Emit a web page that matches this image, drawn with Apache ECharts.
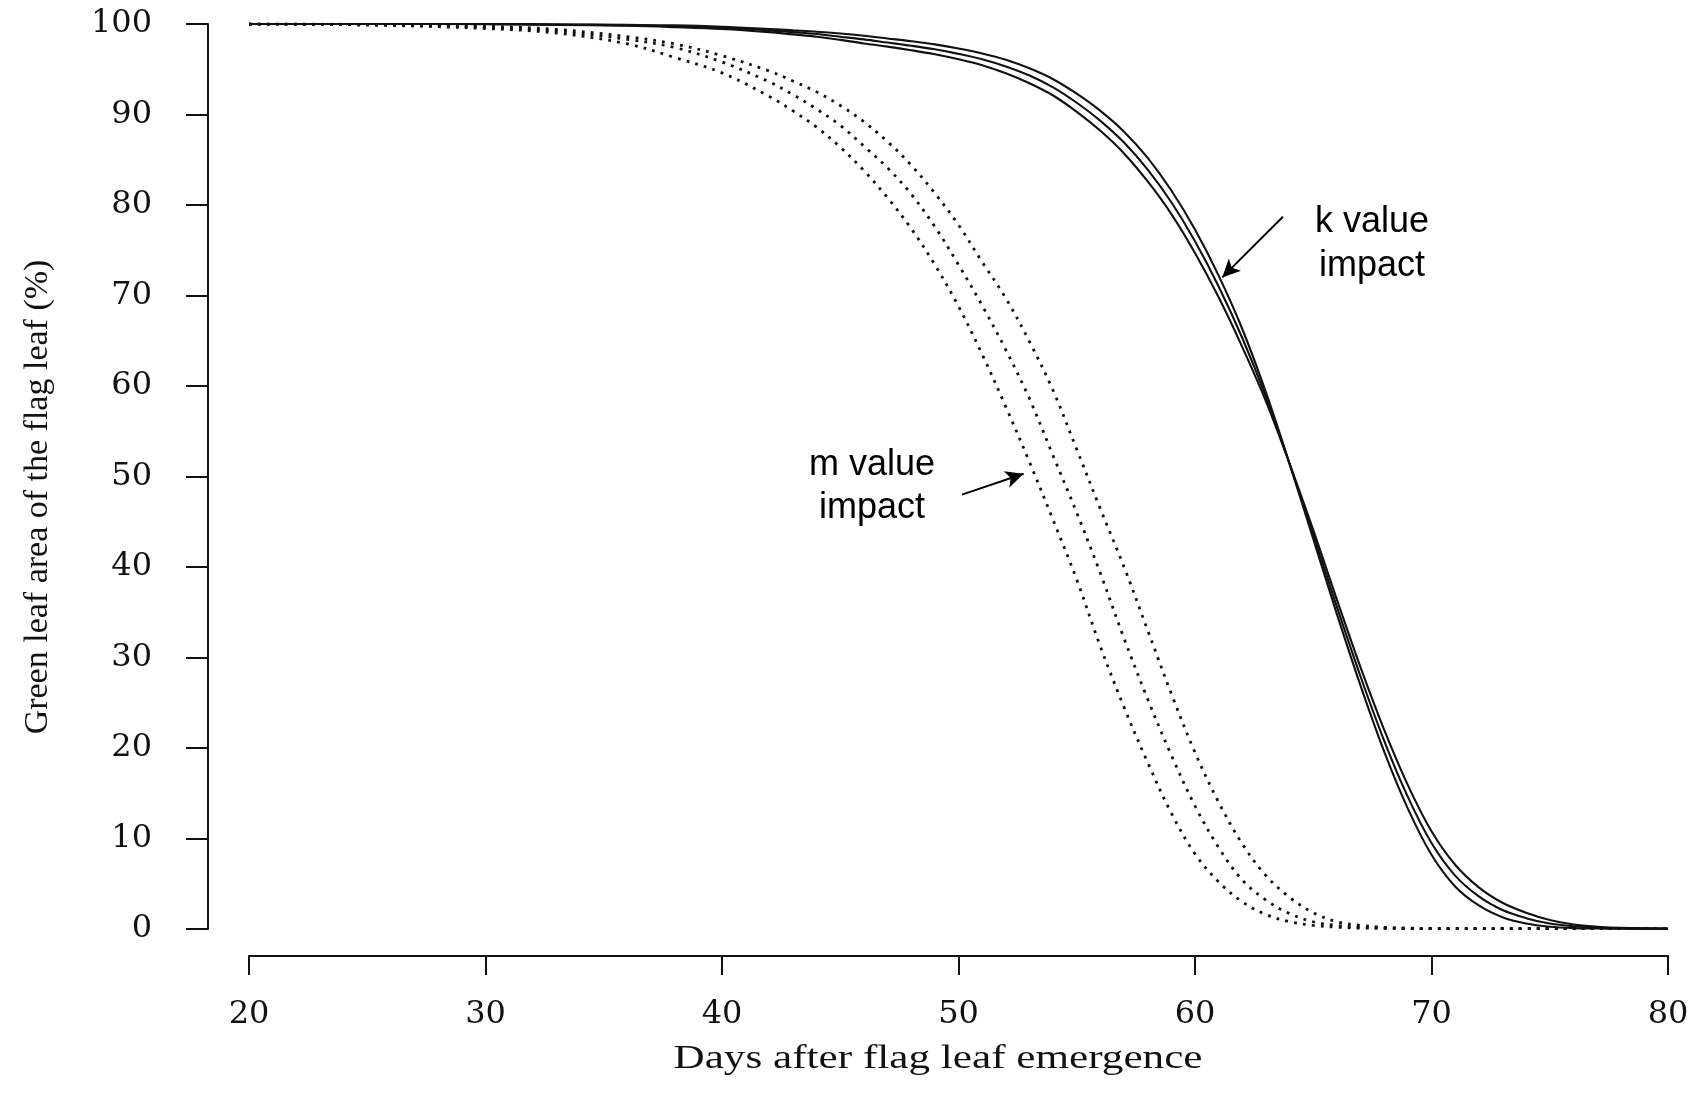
<!DOCTYPE html>
<html><head><meta charset="utf-8">
<script src="https://cdn.jsdelivr.net/npm/echarts@6/dist/echarts.min.js"></script>
<style>html,body{margin:0;padding:0;background:#fff}#c{width:1695px;height:1098px}</style>
</head><body><div id="c"></div>
<script>
// Days after flag leaf emergence (x positions of the read-off points)
const days = [20,25,30,33,36,38,40,42,43,44,45,46,47,48,49,50,51,52,53,54,55,56,57,58,59,60,61,62,63,64,65,66,67,68,69,70,71,72,73,74,75,76,77,78,80];

// Solid curves: k value impact
const kHigh = [100,100,100,99.95,99.9,99.85,99.7,99.45,99.3,99.15,98.95,98.7,98.4,98.1,97.75,97.3,96.75,96.05,95.1,93.9,92.3,90.4,88.1,85.2,81.6,77.3,72.2,66.3,59.3,51.4,43.1,34.8,26.9,19.6,13.3,8.2,4.7,2.6,1.3,0.6,0.25,0.1,0.05,0.02,0];
const kMid  = [100,100,100,99.95,99.85,99.75,99.6,99.3,99.1,98.9,98.6,98.3,97.95,97.6,97.2,96.7,96.1,95.3,94.3,93.0,91.3,89.3,86.9,83.9,80.3,76.0,71.0,65.3,58.8,51.4,43.6,35.6,27.9,20.8,14.6,9.5,5.9,3.6,2.1,1.2,0.6,0.3,0.15,0.08,0.05];
const kLow  = [100,100,99.98,99.9,99.8,99.65,99.45,99.1,98.85,98.6,98.25,97.85,97.5,97.1,96.65,96.1,95.45,94.55,93.45,92.1,90.3,88.2,85.7,82.6,79.0,74.7,69.8,64.3,58.3,51.4,44.1,36.4,28.9,22.0,15.9,10.8,7.1,4.6,2.9,1.8,1.0,0.5,0.25,0.12,0.05];

// Dotted curves: m value impact
const mEarly = [100,99.9,99.5,99.0,97.8,96.3,94.6,92.0,90.4,88.6,86.4,83.8,80.8,77.4,73.4,68.8,63.5,57.7,51.6,45.2,38.6,31.2,24.5,18.4,12.8,8.3,5.2,3.0,1.6,0.8,0.4,0.2,0.1,0.08,0.05,0.05,0.05,0.05,0.05,0.05,0.05,0.05,0.05,0.05,0.05];
const mMid   = [100,99.9,99.65,99.2,98.3,97.4,95.8,93.6,92.2,90.6,88.8,86.5,84.1,81.2,77.6,73.4,68.9,64.0,58.6,52.3,46.0,39.3,32.1,25.4,19.2,13.6,9.0,5.4,3.2,1.7,0.8,0.4,0.2,0.1,0.06,0.05,0.05,0.05,0.05,0.05,0.05,0.05,0.05,0.05,0.05];
const mLate  = [100,99.95,99.75,99.4,98.6,97.8,96.5,94.8,93.7,92.5,91.0,89.2,87.0,84.4,81.3,77.8,73.7,69.7,64.9,59.5,53.0,46.4,40.0,33.0,26.0,19.5,14.0,9.4,5.9,3.5,1.8,0.8,0.4,0.2,0.1,0.05,0.05,0.05,0.05,0.05,0.05,0.05,0.05,0.05,0.05];

const xTicks = [20,30,40,50,60,70,80];
const yTicks = [0,10,20,30,40,50,60,70,80,90,100];

const xTitle = 'Days after flag leaf emergence';
const yTitle = 'Green leaf area of the flag leaf (%)';

const pairs = v => days.map((d, i) => [d, v[i]]);
const tickFont = 'DejaVu Serif';
const ink = '#111';

const dotted = v => ({
  type: 'line', data: pairs(v), showSymbol: false, smooth: 0.35, z: 2,
  lineStyle: { color: '#111', width: 2.8, type: [2.8, 6.2] }
});
const solid = v => ({
  type: 'line', data: pairs(v), showSymbol: false, smooth: 0.35, z: 3,
  lineStyle: { color: ink, width: 2.1 }
});

const chart = echarts.init(document.getElementById('c'), null, { renderer: 'canvas' });
const arrowSeries = {
  type: 'line', data: [], silent: true,
  markLine: {
    silent: true, animation: false,
    symbol: ['none', 'arrow'], symbolSize: [13, 18],
    label: { show: false },
    lineStyle: { color: '#000', width: 2, type: 'solid' },
    data: [
      [{ coord: [63.72, 78.7] }, { coord: [61.15, 72.0] }],
      [{ coord: [50.15, 48.0] }, { coord: [52.75, 50.3] }]
    ]
  }
};

chart.setOption({
  animation: false,
  backgroundColor: '#fff',
  grid: { left: 249, right: 27, top: 24, bottom: 169, containLabel: false },
  xAxis: {
    type: 'value', min: 20, max: 80, interval: 10, offset: 27,
    axisLine: { onZero: false, lineStyle: { color: ink, width: 2 } },
    axisTick: { length: 19, lineStyle: { color: ink, width: 2 } },
    axisLabel: { margin: 43, fontFamily: tickFont, fontSize: 32, color: ink,
      formatter: v => xTicks.includes(v) ? String(v) : '' },
    splitLine: { show: false }
  },
  yAxis: {
    type: 'value', min: 0, max: 100, interval: 10, offset: 41,
    axisLine: { onZero: false, lineStyle: { color: ink, width: 2 } },
    axisTick: { length: 22, lineStyle: { color: ink, width: 2 } },
    axisLabel: { margin: 56, fontFamily: tickFont, fontSize: 32, color: ink,
      formatter: v => yTicks.includes(v) ? String(v) : '' },
    splitLine: { show: false }
  },
  series: [
    dotted(mEarly), dotted(mMid), dotted(mLate),
    solid(kLow), solid(kMid), solid(kHigh),
    arrowSeries
  ],
  graphic: [
    { type: 'text', x: 938, y: 1059, scaleX: 1.27,
      style: { text: xTitle, font: '34px "Liberation Serif"', fill: ink, textAlign: 'center', textVerticalAlign: 'middle' } },
    { type: 'text', x: 38, y: 497, rotation: Math.PI / 2,
      style: { text: yTitle, font: '34px "Liberation Serif"', fill: ink, textAlign: 'center', textVerticalAlign: 'middle' } },
    { type: 'text', x: 1372, y: 222, style: { text: 'k value', font: '36px "Liberation Sans"', fill: '#000', textAlign: 'center', textVerticalAlign: 'middle' } },
    { type: 'text', x: 1372, y: 266, style: { text: 'impact', font: '36px "Liberation Sans"', fill: '#000', textAlign: 'center', textVerticalAlign: 'middle' } },
    { type: 'text', x: 872, y: 465, style: { text: 'm value', font: '36px "Liberation Sans"', fill: '#000', textAlign: 'center', textVerticalAlign: 'middle' } },
    { type: 'text', x: 872, y: 508, style: { text: 'impact', font: '36px "Liberation Sans"', fill: '#000', textAlign: 'center', textVerticalAlign: 'middle' } }
  ]
});
</script>
</body></html>
